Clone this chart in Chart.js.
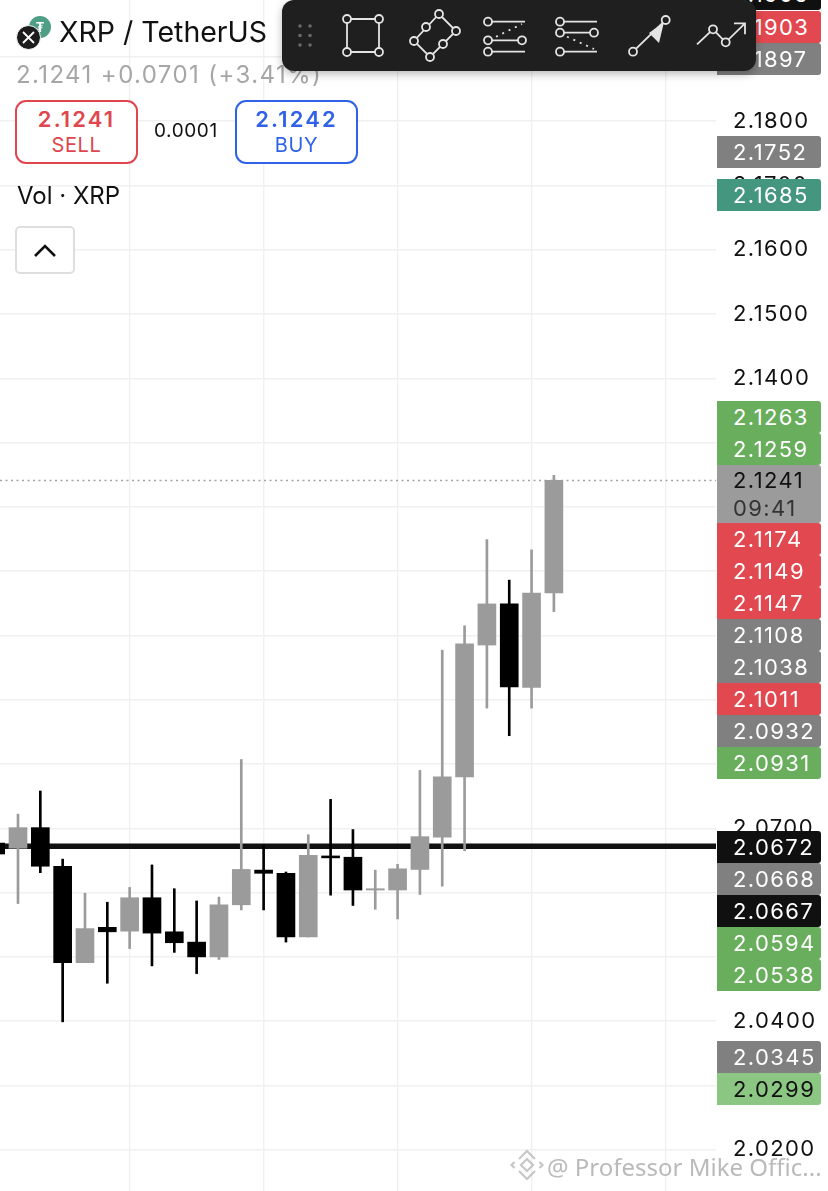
<!DOCTYPE html>
<html>
<head>
<meta charset="utf-8">
<title>XRP / TetherUS</title>
<script src="https://cdn.jsdelivr.net/npm/chart.js@4"></script>
<style>
  html, body { margin: 0; padding: 0; background: #fff; }
  body { width: 828px; height: 1191px; position: relative; overflow: hidden; font-family: Inter, Roboto, sans-serif; color: #111; }
  #chart { position: absolute; left: 0; top: 0; }
  .abs { position: absolute; white-space: nowrap; }
  .title { left: 59px; top: 15px; font-size: 28.5px; line-height: 34px; }
  .quote { left: 16px; top: 60px; font-size: 24px; line-height: 30px; color: #a6a6a6; letter-spacing: 1.4px; }
  .btn { box-sizing: border-box; top: 100px; width: 123px; height: 64px; border: 2px solid; border-radius: 11px; text-align: center; background: #fff; }
  .btn b { display: block; font-size: 22px; line-height: 26px; margin-top: 4px; font-weight: 600; letter-spacing: 2.1px; }
  .btn span { display: block; font-size: 20px; line-height: 26px; letter-spacing: .6px; }
  .sell { left: 15px; color: #e0464e; border-color: #e0464e; }
  .buy { left: 235px; color: #2f62e8; border-color: #2f62e8; }
  .spread { left: 154px; top: 119px; font-size: 19px; line-height: 24px; letter-spacing: .6px; }
  .vol { left: 17px; top: 181px; font-size: 24px; line-height: 30px; }
  .chev { box-sizing: border-box; left: 15px; top: 226px; width: 60px; height: 48px; border: 2px solid #dedede; border-radius: 5px; background: #fff; }
  .tag { box-sizing: border-box; left: 717px; width: 104px; height: 32px; padding-left: 16px; font-size: 22px; line-height: 32px; color: #fff; letter-spacing: 1.4px; border-radius: 0 3px 3px 0; overflow: hidden; }
  .tag.now { height: 58px; line-height: 28px; padding-top: 1px; color: #111; }
  .tag.now span { display: block; color: #333; }
  .toolbar { left: 282px; top: 0; width: 474px; height: 71px; background: #1f1f1f; border-radius: 12px; box-shadow: 0 3px 8px rgba(0,0,0,.28); }
  .mark { left: 547px; top: 1152px; font-size: 24px; line-height: 30px; color: rgba(160,160,160,.72); font-family: "Noto Sans", sans-serif; }
  svg { position: absolute; left: 0; top: 0; overflow: visible; }
</style>
</head>
<body>
<canvas id="chart" width="828" height="1191"></canvas>

<div class="abs tagbox" id="tags"></div>

<svg width="60" height="60">
  <circle cx="40" cy="27" r="11" fill="#4f9e86"/>
  <text x="40" y="32" font-size="13" font-weight="700" fill="#fff" text-anchor="middle">₮</text>
  <circle cx="28.5" cy="37.5" r="12" fill="#1c1c1c" stroke="#fff" stroke-width="1"/>
  <path d="M23 32 L34 43 M34 32 L23 43" stroke="#fff" stroke-width="1.8" fill="none"/>
</svg>
<div class="abs title">XRP / TetherUS</div>
<div class="abs quote">2.1241 +0.0701 (+3.41%)</div>
<div class="abs btn sell"><b>2.1241</b><span>SELL</span></div>
<div class="abs spread">0.0001</div>
<div class="abs btn buy"><b>2.1242</b><span>BUY</span></div>
<div class="abs vol">Vol · XRP</div>
<div class="abs chev"></div>
<svg width="80" height="280"><path d="M35 256 L45 246 L55 256" stroke="#111" stroke-width="2.6" fill="none"/></svg>

<div class="abs toolbar"></div>
<svg width="828" height="80" fill="none" stroke="#e4e4e4" stroke-width="1.8">
  <g fill="#6a6a6a" stroke="none">
    <circle cx="300" cy="26" r="1.8"/><circle cx="310" cy="26" r="1.8"/>
    <circle cx="300" cy="35.5" r="1.8"/><circle cx="310" cy="35.5" r="1.8"/>
    <circle cx="300" cy="45" r="1.8"/><circle cx="310" cy="45" r="1.8"/>
  </g>
  <path d="M347 19 H379 V52 H347 Z"/>
  <g fill="#1f1f1f"><circle cx="347" cy="19" r="4"/><circle cx="379" cy="19" r="4"/><circle cx="347" cy="52" r="4"/><circle cx="379" cy="52" r="4"/></g>
  <path d="M439 14 L456 31 L430 57 L414 41 Z"/>
  <g fill="#1f1f1f"><circle cx="439" cy="14" r="4"/><circle cx="426" cy="27" r="4"/><circle cx="456" cy="31" r="4"/><circle cx="443" cy="44" r="4"/><circle cx="430" cy="57" r="4"/><circle cx="414" cy="41" r="4"/></g>
  <path d="M488 21.7 H525 M488 40.3 H522 M488 51.7 H525"/>
  <path d="M496 36.7 L522 24" stroke-dasharray="2 5"/>
  <g fill="#1f1f1f"><circle cx="488" cy="21.7" r="4"/><circle cx="488" cy="40.3" r="4"/><circle cx="522" cy="40.3" r="4"/><circle cx="488" cy="51.7" r="4"/></g>
  <path d="M560 21.7 H597 M560 32.7 H594 M560 51.7 H597"/>
  <path d="M567 36.7 L594 49" stroke-dasharray="2 5"/>
  <g fill="#1f1f1f"><circle cx="560" cy="21.7" r="4"/><circle cx="560" cy="32.7" r="4"/><circle cx="594" cy="32.7" r="4"/><circle cx="560" cy="51.7" r="4"/></g>
  <path d="M633 51.7 L665.7 20"/>
  <path d="M649 33 L659 43 L664 22 Z" fill="#e4e4e4" stroke="none"/>
  <g fill="#1f1f1f"><circle cx="633" cy="51.7" r="4"/><circle cx="665.7" cy="20" r="4"/></g>
  <path d="M697 44.3 L713 29.3 L725.7 42.3 L745 23.3 M734 23.3 H745 V34.3"/>
  <g fill="#1f1f1f"><circle cx="713" cy="29.3" r="4"/><circle cx="725.7" cy="42.3" r="4"/></g>
</svg>

<div class="abs mark">@ Professor Mike Offic...</div>
<svg width="828" height="1191" fill="none" stroke="rgba(180,180,180,.75)" stroke-width="2.2">
  <path d="M527 1159 L533 1165 L527 1171 L521 1165 Z"/>
  <path d="M519 1159 L527 1151 L535 1159"/>
  <path d="M519 1171 L527 1179 L535 1171"/>
  <path d="M514.5 1162 L511.5 1165 L514.5 1168"/>
  <path d="M539.5 1162 L542.5 1165 L539.5 1168"/>
</svg>

<script>
// Trục giá: các mốc giá và lưới
const yTicks = [2.19, 2.18, 2.17, 2.16, 2.15, 2.14, 2.13, 2.12, 2.11, 2.10, 2.09, 2.08, 2.07, 2.06, 2.05, 2.04, 2.03, 2.02];
const xGridTicks = [5, 11, 17, 23, 29];

// Nến
const candleIdx = [-1, 0, 1, 2, 3, 4, 5, 6, 7, 8, 9, 10, 11, 12, 13, 14, 15, 16, 17, 18, 19, 20, 21, 22, 23, 24];
const opens  = [2.0677, 2.0669, 2.0701, 2.0641, 2.0491, 2.0546, 2.0540, 2.0592, 2.0539, 2.0523, 2.0500, 2.0581, 2.0635, 2.0630, 2.0531, 2.0657, 2.0655, 2.0604, 2.0604, 2.0636, 2.0686, 2.0780, 2.0985, 2.1049, 2.0919, 2.1066];
const highs  = [2.0677, 2.0722, 2.0758, 2.0652, 2.0599, 2.0585, 2.0608, 2.0643, 2.0606, 2.0587, 2.0593, 2.0807, 2.0673, 2.0632, 2.0690, 2.0745, 2.0698, 2.0635, 2.0644, 2.0790, 2.0977, 2.1015, 2.1149, 2.1086, 2.1133, 2.1249];
const lows   = [2.0660, 2.0583, 2.0631, 2.0399, 2.0491, 2.0459, 2.0513, 2.0486, 2.0507, 2.0474, 2.0496, 2.0573, 2.0573, 2.0523, 2.0531, 2.0596, 2.0580, 2.0574, 2.0559, 2.0597, 2.0610, 2.0665, 2.0887, 2.0844, 2.0887, 2.1037];
const closes = [2.0660, 2.0701, 2.0641, 2.0491, 2.0544, 2.0539, 2.0592, 2.0537, 2.0522, 2.0500, 2.0581, 2.0636, 2.0630, 2.0531, 2.0658, 2.0654, 2.0604, 2.0606, 2.0637, 2.0687, 2.0780, 2.0987, 2.1049, 2.0920, 2.1066, 2.1241];

const lastPrice = 2.1241;
const lineLevel = 2.0672;

// Nhãn giá bên phải
const tagLabels = ['2.1905', '2.1903', '2.1897', '2.1752', '2.1685', '2.1263', '2.1259', '2.1241', '2.1174', '2.1149', '2.1147', '2.1108', '2.1038', '2.1011', '2.0932', '2.0931', '2.0672', '2.0668', '2.0667', '2.0594', '2.0538', '2.0345', '2.0299'];
const tagKinds  = ['black', 'red', 'gray', 'gray', 'teal', 'green', 'green', 'now', 'red', 'red', 'red', 'gray', 'gray', 'red', 'gray', 'green', 'black', 'gray', 'black', 'green', 'green', 'gray', 'lime'];
const countdown = '09:41';

// Vị trí các nhãn (đã bị đẩy để không chồng nhau)
const tagTops = [-22, 11, 43, 136, 179, 401, 433, 465, 523, 555, 587, 619, 651, 683, 715, 747, 831, 863, 895, 927, 959, 1041, 1073];
const tagColors = { black: '#101010', red: '#e2484f', gray: '#808080', teal: '#45967f', green: '#69ae5d', now: '#9b9b9b', lime: '#8cc683' };

const UP_COLOR = '#9b9b9b';
const DOWN_COLOR = '#000000';
const candleColor = candleIdx.map((_, i) => closes[i] >= opens[i] ? UP_COLOR : DOWN_COLOR);

const tagsEl = document.getElementById('tags');
tagLabels.forEach((label, i) => {
  const el = document.createElement('div');
  el.className = 'abs tag' + (tagKinds[i] === 'now' ? ' now' : '');
  el.style.top = tagTops[i] + 'px';
  el.style.background = tagColors[tagKinds[i]];
  if (tagKinds[i] === 'lime') el.style.color = '#111';
  el.textContent = label;
  if (tagKinds[i] === 'now') {
    const t = document.createElement('span');
    t.textContent = countdown;
    el.appendChild(t);
  }
  tagsEl.appendChild(el);
});

const X_MIN = -0.806, X_MAX = 31.26;
const Y_MIN = 2.01359, Y_MAX = 2.19882;

new Chart(document.getElementById('chart').getContext('2d'), {
  data: {
    datasets: [
      {
        type: 'bar',
        order: 1,
        data: candleIdx.map((x, i) => ({ x: x, y: [opens[i], closes[i]] })),
        backgroundColor: candleColor,
        barThickness: 18,
        grouped: false
      },
      {
        type: 'bar',
        order: 2,
        data: candleIdx.map((x, i) => ({ x: x, y: [lows[i], highs[i]] })),
        backgroundColor: candleColor,
        barThickness: 2,
        grouped: false
      },
      {
        type: 'line',
        order: 3,
        data: [{ x: X_MIN, y: lastPrice }, { x: X_MAX, y: lastPrice }],
        borderColor: '#a3a3a3',
        borderWidth: 1.5,
        borderDash: [2, 3.5],
        pointRadius: 0
      },
      {
        type: 'line',
        order: 4,
        data: [{ x: X_MIN, y: lineLevel }, { x: X_MAX, y: lineLevel }],
        borderColor: '#111111',
        borderWidth: 5.5,
        pointRadius: 0
      }
    ]
  },
  options: {
    responsive: false,
    animation: false,
    devicePixelRatio: 1,
    layout: { padding: 0 },
    plugins: { legend: { display: false }, tooltip: { enabled: false } },
    scales: {
      x: {
        type: 'linear',
        min: X_MIN,
        max: X_MAX,
        offset: false,
        afterBuildTicks: s => { s.ticks = xGridTicks.map(v => ({ value: v })); },
        grid: { color: '#f0f0f0', lineWidth: 1.4, drawTicks: false, offset: false },
        border: { display: false },
        ticks: { display: false }
      },
      y: {
        position: 'right',
        min: Y_MIN,
        max: Y_MAX,
        afterBuildTicks: s => { s.ticks = yTicks.map(v => ({ value: v })); },
        // bỏ phần đệm của nhãn để vùng vẽ chiếm hết chiều cao
        afterFit: s => { s.width = 112; s.paddingTop = 0; s.paddingBottom = 0; },
        grid: { color: '#f0f0f0', lineWidth: 1.4, drawTicks: false },
        border: { display: false },
        ticks: {
          color: '#111',
          padding: 17,
          autoSkip: false,
          font: { family: 'Inter', size: 22 },
          callback: v => v.toFixed(4)
        }
      }
    }
  },
  plugins: [{
    id: 'tickSpacing',
    beforeDraw: chart => { chart.ctx.letterSpacing = '1.4px'; }
  }]
});
</script>
</body>
</html>
